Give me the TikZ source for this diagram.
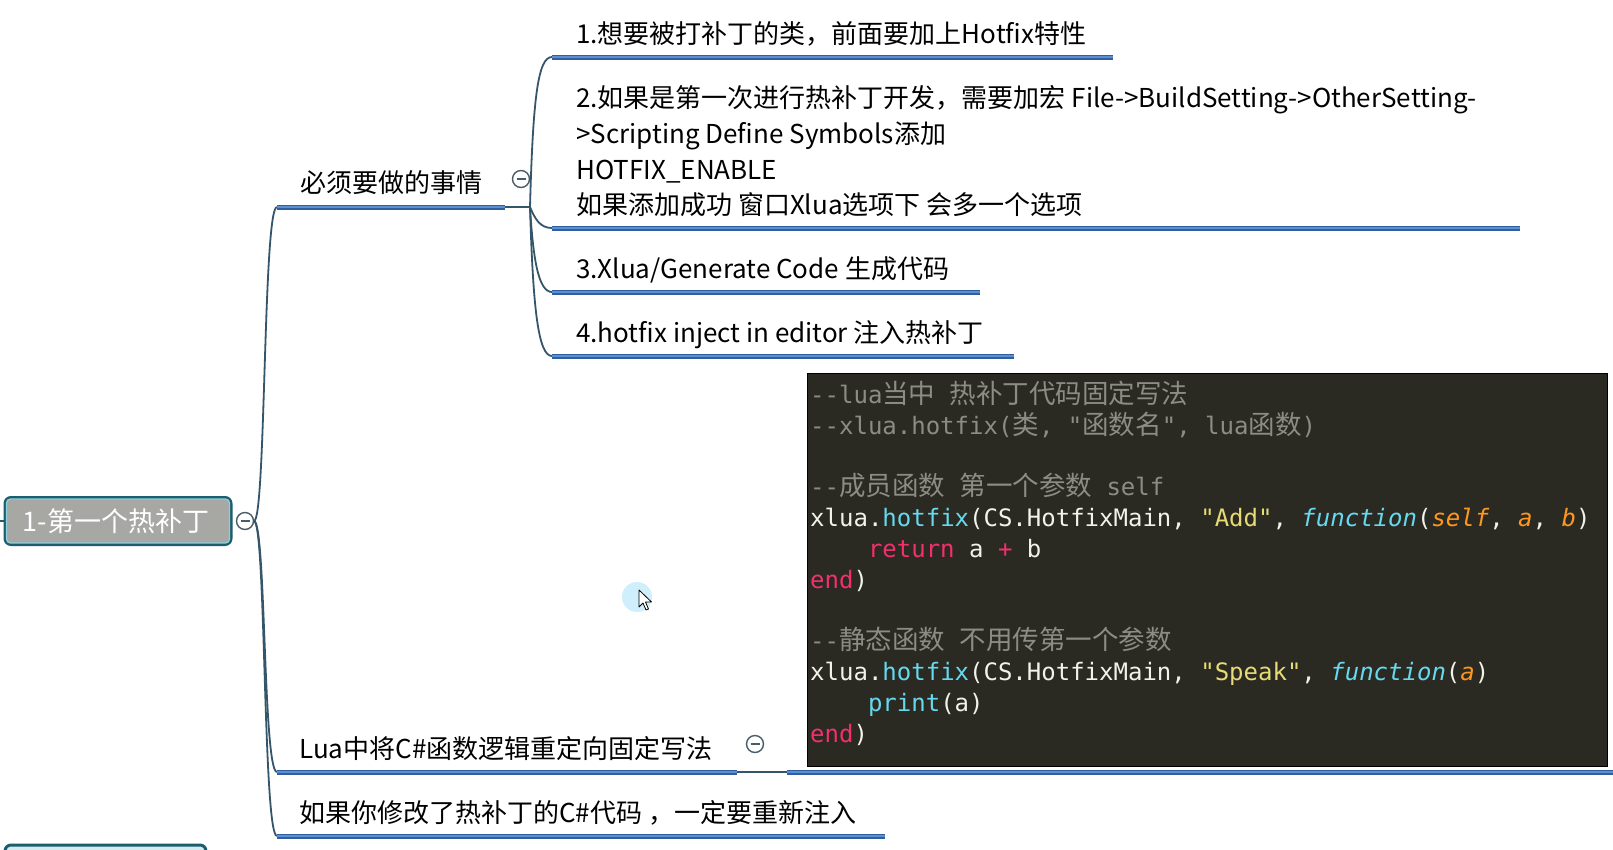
\documentclass[tikz,border=0pt]{standalone}
\usepackage{fontspec}
\setmainfont{Noto Sans CJK SC}
\newfontfamily\cjkf{Noto Sans CJK SC}
\newfontfamily\codef{DejaVu Sans Mono}
\usetikzlibrary{calc}
\definecolor{ulblue}{HTML}{2F5F9F}
\definecolor{ulhi}{HTML}{5C8FD2}
\definecolor{conncol}{HTML}{35566A}
\definecolor{collcol}{HTML}{4A5C68}
\definecolor{rootfill}{HTML}{A7A7A3}
\definecolor{rootedge}{HTML}{1D5E6E}
\definecolor{rootin}{HTML}{8FD0DC}
\definecolor{codebg}{HTML}{2A2A23}
\definecolor{cwhite}{HTML}{F2F2EC}
\definecolor{ccomc}{HTML}{8C8C86}
\definecolor{ccyanc}{HTML}{66D9EF}
\definecolor{cyelc}{HTML}{E6DB74}
\definecolor{corgc}{HTML}{FD971F}
\definecolor{cpinkc}{HTML}{F2306E}
\newcommand\zh[1]{{\cjkf\fontsize{26.5}{30}\selectfont #1}}
\newcommand\ccom[1]{\textcolor{ccomc}{#1}}
\newcommand\ccy[1]{\textcolor{ccyanc}{#1}}
\newcommand\cye[1]{\textcolor{cyelc}{#1}}
\newcommand\cor[1]{\textcolor{corgc}{#1}}
\newcommand\cpk[1]{\textcolor{cpinkc}{#1}}
\newcommand\ulbar[2]{\draw[ulline] (#1) -- (#2); \draw[ulhiline] (#1) -- (#2);}
\tikzset{
  mmtext/.style={anchor=base west, inner sep=0pt, font=\fontsize{26}{30}\selectfont, text=black},
  ulline/.style={line width=5pt, color=ulblue},
  ulhiline/.style={line width=1.6pt, color=ulhi},
  conn/.style={line width=1.8pt, color=conncol},
  thinconn/.style={line width=1.6pt, color=conncol},
  collapse/.style={circle, draw=collcol, line width=1.4pt, fill=white, minimum size=17pt, inner sep=0pt,
    path picture={\draw[collcol,line width=1.4pt] ([xshift=-4.5pt]path picture bounding box.center) -- ([xshift=4.5pt]path picture bounding box.center);}},
  codeline/.style={anchor=base west, inner sep=0pt, font=\codef\fontsize{24}{30}\selectfont, text=cwhite},
  rootbox/.style={rectangle, rounded corners=6pt, fill=rootfill, draw=rootedge, line width=3pt,
    minimum width=226pt, minimum height=47pt, inner sep=0pt, text=white, font=\fontsize{28}{32}\selectfont},
}
\begin{document}
\begin{tikzpicture}[x=1pt,y=-1pt]
\useasboundingbox (0,0) rectangle (1613,849);
\fill[white] (0,0) rectangle (1613,849);

% root
\coordinate (lstub) at (0,521);
\node[rootbox] (root) at (118,521) {};
\draw[rootin, line width=1.3pt, rounded corners=4pt] ($(root.south west)+(3,-3)$) rectangle ($(root.north east)+(-3,3)$);
\node[inner sep=0pt, text=white, font=\fontsize{27}{32}\selectfont, anchor=base] (roottext) at (116,531) {1-第一个热补丁};
\draw[rootedge, line width=2pt] (lstub) -- (root.west);
\node[collapse] (c0) at (245,521) {};

% bottom-left partially visible box
\draw[rootedge, fill=rootin!40!white, line width=3pt, rounded corners=6pt] (5,845) rectangle (206,890);

% branch A
\coordinate (aS) at (277,207);
\coordinate (aE) at (505,207);
\coordinate (jA) at (530,207);
\node[mmtext] (tA) at (300,192) {必须要做的事情};
\node[collapse] (cA) at (521,179) {};

% items
\coordinate (s1) at (552,57);   \coordinate (e1) at (1113,57);
\coordinate (s2) at (552,228);  \coordinate (e2) at (1520,228);
\coordinate (s3) at (552,292);  \coordinate (e3) at (980,292);
\coordinate (s4) at (552,356);  \coordinate (e4) at (1014,356);
\node[mmtext] (t1) at (576,43) {1.想要被打补丁的类，前面要加上Hotfix特性};
\node[mmtext] (t2a) at (576,107) {2.如果是第一次进行热补丁开发，需要加宏 File->BuildSetting->OtherSetting-};
\node[mmtext] (t2b) at (576,143) {>Scripting Define Symbols添加};
\node[mmtext] (t2c) at (576,179) {HOTFIX\_ENABLE};
\node[mmtext] (t2d) at (576,214) {如果添加成功 窗口Xlua选项下 会多一个选项};
\node[mmtext] (t3) at (576,278) {3.Xlua/Generate Code 生成代码};
\node[mmtext] (t4) at (576,342) {4.hotfix inject in editor 注入热补丁};

% branch B
\coordinate (bS) at (277,772);
\coordinate (bE) at (737,772);
\coordinate (kS) at (787,772);
\coordinate (kE) at (1613,772);
\node[mmtext] (tB) at (299,758) {Lua中将C\#函数逻辑重定向固定写法};
\node[collapse] (cB) at (755,744) {};

% branch C
\coordinate (cS) at (277,836);
\coordinate (cE) at (885,836);
\node[mmtext] (tC) at (299,822) {如果你修改了热补丁的C\#代码 ，一定要重新注入};

% connectors
\coordinate (m0) at (254,521);
\draw[conn] (m0) .. controls ($(m0)+(12,0)$) and ($(aS)+(-14,0)$) .. (aS);
\draw[conn] (m0) .. controls ($(m0)+(12,0)$) and ($(bS)+(-14,0)$) .. (bS);
\draw[conn] (m0) .. controls ($(m0)+(12,0)$) and ($(cS)+(-14,0)$) .. (cS);
\draw[thinconn] (aE) -- (jA);
\draw[conn] (jA) .. controls ($(jA)+(3,-110)$) and ($(s1)+(-14,0)$) .. (s1);
\draw[conn] (jA) .. controls ($(jA)+(5,12)$) and ($(s2)+(-12,0)$) .. (s2);
\draw[conn] (jA) .. controls ($(jA)+(3,50)$) and ($(s3)+(-14,0)$) .. (s3);
\draw[conn] (jA) .. controls ($(jA)+(3,100)$) and ($(s4)+(-14,0)$) .. (s4);
\draw[thinconn] (bE) -- (kS);

% underlines
\ulbar{aS}{aE}
\ulbar{s1}{e1}
\ulbar{s2}{e2}
\ulbar{s3}{e3}
\ulbar{s4}{e4}
\ulbar{bS}{bE}
\ulbar{kS}{kE}
\ulbar{cS}{cE}

% code image
\node[rectangle, fill=codebg, draw=black, line width=1pt, minimum width=800pt, minimum height=393pt, inner sep=0pt, anchor=north west] (code) at (807,373) {};
\node[codeline] (l0) at (810,403) {\ccom{--lua\zh{当中} \zh{热补丁代码固定写法}}};
\node[codeline] (l1) at (810,434) {\ccom{--xlua.hotfix(\zh{类}, "\zh{函数名}", lua\zh{函数})}};
\node[codeline] (l3) at (810,495) {\ccom{--\zh{成员函数} \zh{第一个参数} self}};
\node[codeline] (l4) at (810,526) {xlua.\ccy{hotfix}(CS.HotfixMain, \cye{"Add"}, \ccy{\itshape function}(\cor{\itshape self}, \cor{\itshape a}, \cor{\itshape b})};
\node[codeline] (l5) at (810,557) {\phantom{xxxx}\cpk{return} a \cpk{+} b};
\node[codeline] (l6) at (810,588) {\cpk{end})};
\node[codeline] (l8) at (810,649) {\ccom{--\zh{静态函数} \zh{不用传第一个参数}}};
\node[codeline] (l9) at (810,680) {xlua.\ccy{hotfix}(CS.HotfixMain, \cye{"Speak"}, \ccy{\itshape function}(\cor{\itshape a})};
\node[codeline] (l10) at (810,711) {\phantom{xxxx}\ccy{print}(a)};
\node[codeline] (l11) at (810,742) {\cpk{end})};

% mouse cursor
\fill[cyan!35, opacity=0.55] (637,597) circle (15);
\draw[black, fill=white, line width=0.8pt, line join=round] (639,590) -- ++(0,17) -- ++(4,-4) -- ++(3,7) -- ++(2.5,-1) -- ++(-3,-7) -- ++(6,0) -- cycle;
\end{tikzpicture}
\end{document}
